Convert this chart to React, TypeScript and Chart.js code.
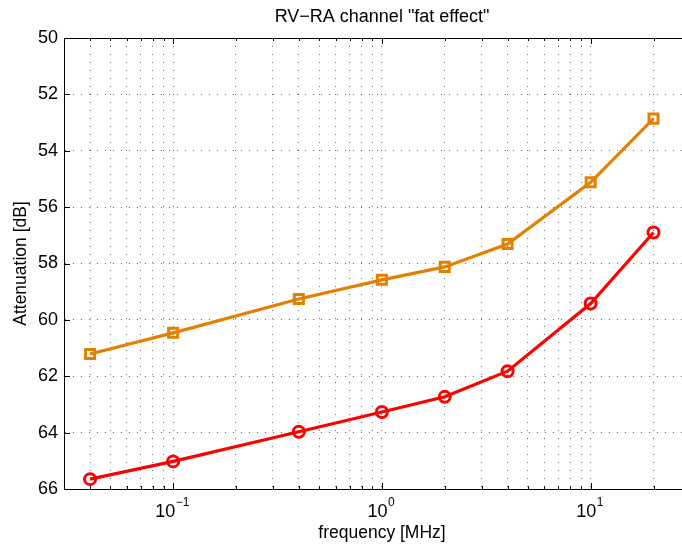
import React, { useEffect, useRef } from "react";
import { Chart, registerables } from "chart.js";

Chart.register(...registerables);

const frequencies = [0.04, 0.1, 0.4, 1, 2, 4, 10, 20];
const orangeSeries = [61.21, 60.46, 59.26, 58.58, 58.12, 57.31, 55.12, 52.86];
const redSeries = [65.65, 65.02, 63.97, 63.27, 62.73, 61.82, 59.42, 56.9];
const xGridValues = [
  0.04, 0.05, 0.06, 0.07, 0.08, 0.09, 0.1,
  0.2, 0.3, 0.4, 0.5, 0.6, 0.7, 0.8, 0.9, 1,
  2, 3, 4, 5, 6, 7, 8, 9, 10, 20, 30,
];
const decadeExponents: Record<string, string> = { "0.1": "\u22121", "1": "0", "10": "1" };
const titleText = 'RV\u2212RA channel "fat effect"';
const xTitle = "frequency [MHz]";
const yTitle = "Attenuation [dB]";

const FONT = "'Liberation Sans', Arial, Helvetica, sans-serif";

const frameTicks = {
  id: "frameTicks",
  afterDraw(chart: any) {
    const { ctx, chartArea } = chart;
    const { left, right, top, bottom } = chartArea;
    ctx.save();
    ctx.strokeStyle = "#000";
    ctx.lineWidth = 1;
    ctx.setLineDash([]);
    ctx.beginPath();
    ctx.moveTo(left, top + 0.5);
    ctx.lineTo(right, top + 0.5);
    ctx.stroke();
    const xs = chart.scales.x;
    xs.ticks.forEach((t: any) => {
      const px = Math.round(xs.getPixelForValue(t.value)) + 0.5;
      const major = decadeExponents[String(t.value)] !== undefined;
      const len = major ? 6 : 3;
      ctx.beginPath();
      ctx.moveTo(px, bottom);
      ctx.lineTo(px, bottom - len);
      ctx.moveTo(px, top);
      ctx.lineTo(px, top + len);
      ctx.stroke();
    });
    const ys = chart.scales.y;
    ys.ticks.forEach((t: any) => {
      const py = Math.round(ys.getPixelForValue(t.value)) + 0.5;
      ctx.beginPath();
      ctx.moveTo(left, py);
      ctx.lineTo(left + 6, py);
      ctx.stroke();
    });
    // decade tick labels with superscript exponents
    ctx.fillStyle = "#000";
    ctx.textBaseline = "alphabetic";
    ctx.textAlign = "left";
    xs.ticks.forEach((t: any) => {
      const exp = decadeExponents[String(t.value)];
      if (exp === undefined) return;
      const px = xs.getPixelForValue(t.value);
      ctx.font = `18px ${FONT}`;
      const w1 = ctx.measureText("10").width;
      ctx.font = `12px ${FONT}`;
      const w2 = ctx.measureText(exp).width;
      const x0 = px - (w1 + w2) / 2 - 1;
      ctx.font = `18px ${FONT}`;
      ctx.fillText("10", x0, bottom + 28);
      ctx.font = `12px ${FONT}`;
      ctx.fillText(exp, x0 + w1 + 0.5, bottom + 17);
    });
    ctx.restore();
  },
};

export default function App() {
  const canvasRef = useRef<HTMLCanvasElement | null>(null);

  useEffect(() => {
    document.body.style.margin = "0";
    document.body.style.overflow = "hidden";
    document.documentElement.style.overflow = "hidden";
    const canvas = canvasRef.current;
    if (!canvas) return;
    const chart = new Chart(canvas, {
      type: "line",
      data: {
        datasets: [
          {
            label: "orange",
            data: frequencies.map((f, i) => ({ x: f, y: orangeSeries[i] })),
            borderColor: "rgb(228,128,0)",
            backgroundColor: "rgba(0,0,0,0)",
            borderWidth: 3.2,
            pointStyle: "rect",
            pointRadius: 6.4,
            pointBorderWidth: 3,
            pointBackgroundColor: "rgba(0,0,0,0)",
            pointBorderColor: "rgb(228,128,0)",
            tension: 0,
          },
          {
            label: "red",
            data: frequencies.map((f, i) => ({ x: f, y: redSeries[i] })),
            borderColor: "rgb(255,0,0)",
            backgroundColor: "rgba(0,0,0,0)",
            borderWidth: 3.2,
            pointStyle: "circle",
            pointRadius: 5.5,
            pointBorderWidth: 3,
            pointBackgroundColor: "rgba(0,0,0,0)",
            pointBorderColor: "rgb(255,0,0)",
            tension: 0,
          },
        ],
      },
      options: {
        animation: false,
        responsive: false,
        maintainAspectRatio: false,
        layout: { padding: 0, autoPadding: false } as any,
        plugins: {
          legend: { display: false },
          tooltip: { enabled: false },
          title: {
            display: true,
            fullSize: false,
            text: titleText,
            color: "#000",
            font: { family: FONT, size: 18, weight: "normal" },
            padding: { top: 6.7, bottom: 9.7 },
          },
        },
        scales: {
          x: {
            type: "logarithmic",
            min: 0.03,
            max: 33.4,
            afterBuildTicks: (scale: any) => {
              scale.ticks = xGridValues.map((v) => ({ value: v }));
            },
            afterFit: (scale: any) => {
              scale.height = 58;
              scale.paddingLeft = 0;
              scale.paddingRight = 0;
            },
            ticks: {
              autoSkip: false,
              maxRotation: 0,
              minRotation: 0,
              padding: 12,
              color: "#000",
              font: { family: FONT, size: 18 },
              callback: () => "",
            },
            grid: {
              drawTicks: false,
              color: "rgba(0,0,0,0.6)",
              lineWidth: 1,
            },
            border: { display: true, color: "#000", width: 1, dash: [1, 7] } as any,
            title: {
              display: true,
              text: xTitle,
              color: "#000",
              font: { family: FONT, size: 17.5 },
              padding: { top: 0, bottom: 3.5 },
            },
          },
          y: {
            type: "linear",
            min: 50,
            max: 66,
            reverse: true,
            afterFit: (scale: any) => {
              scale.width = 64;
              scale.paddingTop = 0;
              scale.paddingBottom = 0;
            },
            ticks: {
              stepSize: 2,
              padding: 6,
              color: "#000",
              font: { family: FONT, size: 18 },
            },
            grid: {
              drawTicks: false,
              color: "rgba(0,0,0,0.6)",
              lineWidth: 1,
            },
            border: { display: true, color: "#000", width: 1, dash: [1, 7] } as any,
            title: {
              display: true,
              text: yTitle,
              color: "#000",
              font: { family: FONT, size: 17.5 },
              padding: { top: 11, bottom: 0 },
            },
          },
        },
      },
      plugins: [frameTicks],
    });
    return () => chart.destroy();
  }, []);

  return <canvas ref={canvasRef} width={700} height={547} style={{ display: "block" }} />;
}
